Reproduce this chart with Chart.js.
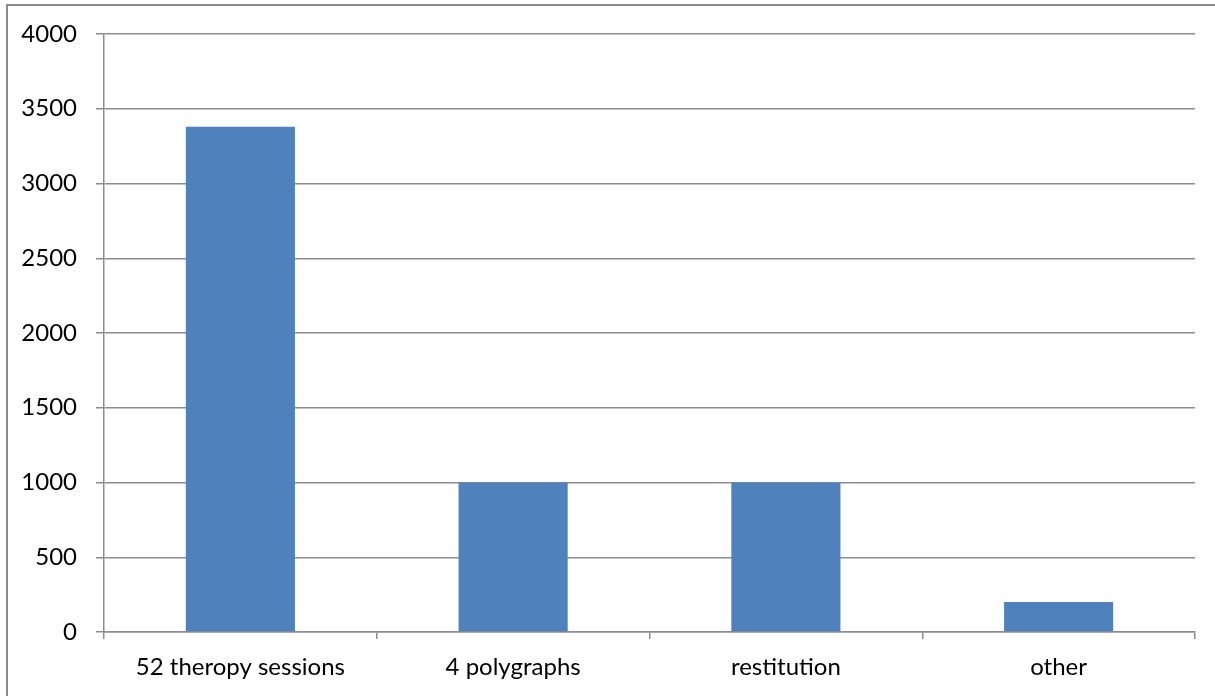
<!DOCTYPE html>
<html>
<head>
<meta charset="utf-8">
<script src="https://cdn.jsdelivr.net/npm/chart.js@4/dist/chart.umd.min.js"></script>
<style>
  html, body { margin: 0; padding: 0; background: #fff; overflow: hidden; }
  #wrap { position: relative; width: 1215px; height: 696px; }
  #frame { position: absolute; left: 6px; top: 4px; width: 1230px; height: 720px;
           border: 2px solid #8a8a8a; box-sizing: border-box; pointer-events: none; }
  canvas { position: absolute; left: 0; top: 0; }
</style>
</head>
<body>
<div id="wrap">
  <canvas id="chart" width="1215" height="696"></canvas>
  <div id="frame"></div>
</div>
<script>
// Cost breakdown by item
const categories = ['52 theropy sessions', '4 polygraphs', 'restitution', 'other'];
const amounts = [3380, 1000, 1000, 200];
const yTicks = [0, 500, 1000, 1500, 2000, 2500, 3000, 3500, 4000];

const axisGray = '#8c8c8c';
const labelFont = { family: 'Lato, "Liberation Sans", sans-serif', size: 24 };

new Chart(document.getElementById('chart'), {
  type: 'bar',
  data: {
    labels: categories,
    datasets: [{
      data: amounts,
      backgroundColor: '#4f81bd',
      borderWidth: 0,
      categoryPercentage: 1.0,
      barPercentage: 0.4
    }]
  },
  options: {
    responsive: false,
    animation: false,
    devicePixelRatio: 1,
    layout: { padding: { top: 34, right: 20, bottom: 0, left: 0 } },
    plugins: { legend: { display: false }, tooltip: { enabled: false } },
    scales: {
      x: {
        offset: true,
        grid: { offset: true, drawOnChartArea: false, drawTicks: true, tickLength: 7,
                color: axisGray, lineWidth: 1.5 },
        border: { color: axisGray, width: 1.5 },
        ticks: { color: '#000', font: labelFont, padding: 14, maxRotation: 0 },
        afterFit: s => { s.height = 64; }
      },
      y: {
        min: 0,
        max: 4000,
        afterBuildTicks: s => { s.ticks = yTicks.map(v => ({ value: v })); },
        grid: { color: axisGray, lineWidth: 1.5, tickLength: 8 },
        border: { color: axisGray, width: 1.5 },
        ticks: { color: '#000', font: labelFont, padding: 19, callback: v => String(v) },
        afterFit: s => { s.width = 104; }
      }
    }
  }
});
</script>
</body>
</html>
